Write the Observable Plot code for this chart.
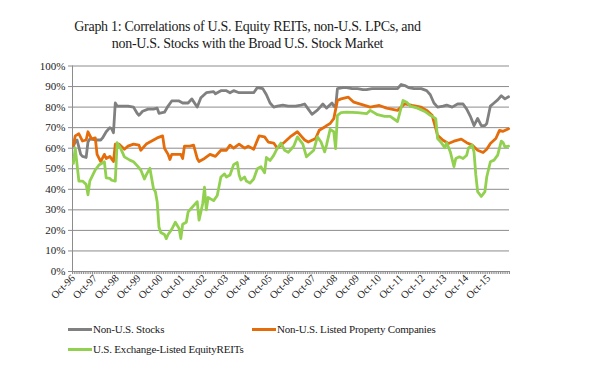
<!DOCTYPE html>
<html><head><meta charset="utf-8">
<script src="https://cdn.jsdelivr.net/npm/d3@7"></script>
<script src="https://cdn.jsdelivr.net/npm/@observablehq/plot@0.6"></script>
<style>
body{margin:0;background:#fff;width:590px;height:376px;position:relative;overflow:hidden}
#title{position:absolute;left:0;top:19px;width:495px;text-align:center;font-family:"Liberation Serif",serif;font-size:14px;letter-spacing:-0.3px;line-height:16.5px;color:#1a1a1a}
#chart{position:absolute;left:0;top:58px}
.sw{position:absolute;height:3px;width:24px}
.lt{position:absolute;font-family:"Liberation Serif",serif;font-size:11px;line-height:12px;color:#1a1a1a;white-space:nowrap;letter-spacing:-0.2px}
</style></head><body>
<div id="title">Graph 1: Correlations of U.S. Equity REITs, non-U.S. LPCs, and<br>non-U.S. Stocks with the Broad U.S. Stock Market</div>
<div id="chart"></div>
<div id="legend"></div>
<script>
// month offsets from Oct-96 and correlation values (%)
const seriesNames = ["Non-U.S. Stocks", "Non-U.S. Listed Property Companies", "U.S. Exchange-Listed EquityREITs"];
const seriesColors = ["#808080", "#e46c0a", "#92d050"];

const stocks = [[0,61],[1,63],[2,64],[4,57],[5,56],[7,55.5],[8,63],[9,64.5],[12,64],[15,64],[16,65],[18,68],[20,70],[21,69.5],[22,67.5],[23,82],[24,80.5],[27,80.5],[30,80.5],[33,80],[35,77],[36,76],[38,78],[41,79],[44,79],[46,79.5],[47,77],[50,77.5],[52,80.5],[54,83],[58,83],[60,82],[63,82],[65,84],[68,80],[70,84.5],[73,87],[77,87.5],[78,86.5],[81,88],[84,88],[86,87],[88,88],[91,87],[95,87],[99,87],[101,89.5],[104,89],[106,86],[108,82],[110,80],[112,80.5],[115,81],[118,80.5],[120,80.5],[122,80.5],[125,81],[127,81.5],[129,79],[131,76.5],[134,78.5],[137,81.5],[139,79.5],[142,82],[143,80.5],[144,80],[145,89],[148,89.5],[150,89.5],[153,89],[156,89],[159,88.5],[161,88.5],[164,89],[167,89],[170,89],[172,89],[175,89],[178,89],[180,91],[182,90.5],[184,89.5],[187,89],[191,89],[194,88],[196,86],[198,82],[200,80],[203,80.5],[205,81],[208,80],[211,81.5],[214,81.5],[216,79],[218,75.5],[220,71],[222,74.5],[224,71],[226,71],[227,72],[229,80.5],[231,82],[233,83.5],[235,85.5],[237,84],[239,85]];

const lpcs = [[0,61.5],[1,66],[3,67],[5,63.5],[7,64],[8,68],[10,64.5],[12,65],[13,57],[15,53.5],[17,57],[18,55],[20,56],[22,53.5],[23,62],[25,62],[28,59.5],[30,61],[33,62],[36,61.5],[37,59],[40,62],[44,64],[46,65],[49,66],[50,60],[52,57],[53,54.5],[54,57],[59,57],[60,55],[61,61],[64,61],[66,61.5],[68,55],[69,53.5],[72,55],[75,57],[78,56],[81,59],[84,59],[86,61.5],[88,60],[91,62],[94,60],[96,61],[99,59.5],[102,66],[105,65.5],[107,63],[110,62.5],[112,60],[116,63],[119,65.5],[123,68],[125,66],[127,64],[129,63],[133,64.7],[135,68.7],[138,70.3],[139,71],[141,72],[143,74.4],[145,83.2],[147,84],[151,84.8],[154,82.4],[159,81.1],[163,80],[168,80.8],[172,79.5],[178,78.4],[182,81.6],[186,80.8],[191,80],[194,78.4],[197,76],[200,66.3],[203,63.9],[206,62.3],[209,63.4],[213,64.4],[216,62.7],[219,61.5],[222,59],[225,57.9],[227,59.5],[229,62.3],[232,64.7],[234,68.7],[236,68.2],[239,69.5]];

const reits = [[0,52.6],[1,60.2],[3,44],[5,44],[7,42.4],[8,37.3],[9,44],[12,49.4],[14,51.8],[17,53.4],[18,45.6],[20,45.3],[21,44.4],[23,44],[24,62.7],[26,59.8],[28,55.8],[31,54.2],[33,53.4],[35,51.5],[37,49.4],[39,45],[40,47],[42,50.2],[44,40.2],[45,38.9],[46,34],[47,21.5],[48,19],[50,18],[51,16],[52,18],[54,20.5],[56,24],[58,21],[59,16],[60,23],[62,24],[63,29],[65,31],[68,34],[69,25],[71,33],[72,41],[73,30],[74,36],[77,34.5],[79,37],[81,46],[83,47.5],[84,46],[86,47],[88,52],[90,53],[91,47],[92,44.5],[94,46],[95,44],[97,43],[99,45],[101,50],[103,51],[105,48],[106,55.5],[108,54],[110,56.5],[112,60],[114,62.5],[116,59],[118,58],[120,60],[121,61],[123,65.5],[126,62],[128,55.8],[130,57.4],[132,59],[134,65.5],[136,63],[138,58.2],[139,61.5],[141,69.2],[143,68],[144,59.8],[145,76],[147,77.3],[150,77.6],[156,77.3],[161,76.8],[163,78.4],[167,76.3],[171,75.5],[174,75.5],[178,73],[181,83.2],[183,82.4],[185,80.5],[189,79.5],[193,77.9],[196,76],[199,74.4],[200,64.7],[202,62.7],[204,60.2],[205,62.7],[207,58.2],[209,51],[210,55],[212,55.8],[214,55],[216,56.6],[217,60.2],[219,61.5],[220,58.2],[221,47],[222,38.9],[224,36.5],[226,38.9],[227,46],[229,53.4],[231,54.2],[233,56.6],[235,63.4],[236,62.7],[237,60.6],[239,61]];

const yearLabels = ["Oct-96","Oct-97","Oct-98","Oct-99","Oct-00","Oct-01","Oct-02","Oct-03","Oct-04","Oct-05","Oct-06","Oct-07","Oct-08","Oct-09","Oct-10","Oct-11","Oct-12","Oct-13","Oct-14","Oct-15"];
const yTicks = [0,10,20,30,40,50,60,70,80,90,100];
const nMonths = 240;

const data = [stocks, lpcs, reits].flatMap((s, i) => s.map(([m, v]) => ({m, v, series: seriesNames[i]})));
const labelPos = yearLabels.map((_, i) => i * 12 + 0.5);

const chart = Plot.plot({
  width: 590, height: 250,
  marginTop: 7.5, marginBottom: 37, marginLeft: 72, marginRight: 81,
  style: {fontFamily: "Liberation Serif", color: "#1a1a1a", background: "#fff"},
  x: {domain: [0, nMonths], axis: null},
  y: {domain: [0, 100], axis: null},
  color: {domain: seriesNames, range: seriesColors},
  marks: [
    Plot.gridY(yTicks, {stroke: "#8c8c8c", strokeOpacity: 1, strokeWidth: 1}),
    Plot.ruleX([0], {stroke: "#8c8c8c"}),
    Plot.axisY(yTicks, {label: null, tickSize: 4, tickPadding: 3, stroke: "#8c8c8c", tickFormat: d => d + "%", fontSize: 11, fontFamily: "Liberation Serif", fill: "#1a1a1a"}),
    Plot.axisX(d3.range(0, nMonths + 1), {label: null, tickSize: 3, stroke: "#8c8c8c", tickFormat: () => "", anchor: "bottom"}),
    Plot.axisX(labelPos, {label: null, tickSize: 0, tickRotate: -45, tickPadding: 5, tickFormat: (d, i) => yearLabels[i], fontSize: 10.5, fontFamily: "Liberation Serif", fill: "#1a1a1a", anchor: "bottom"}),
    Plot.line(data, {x: d => d.m + 0.5, y: "v", z: "series", stroke: "series", strokeWidth: 2.8, strokeLinejoin: "round"})
  ]
});
document.getElementById("chart").append(chart);

// legend
const legendPos = [[68, 328], [252, 328], [68, 348]];
const leg = document.getElementById("legend");
seriesNames.forEach((name, i) => {
  const [lx, ly] = legendPos[i];
  const sw = document.createElement("div");
  sw.className = "sw"; sw.style.left = lx + "px"; sw.style.top = ly + "px"; sw.style.background = seriesColors[i];
  const t = document.createElement("div");
  t.className = "lt"; t.style.left = (lx + 25) + "px"; t.style.top = (ly - 5) + "px"; t.textContent = name;
  leg.append(sw, t);
});
</script>
</body></html>
